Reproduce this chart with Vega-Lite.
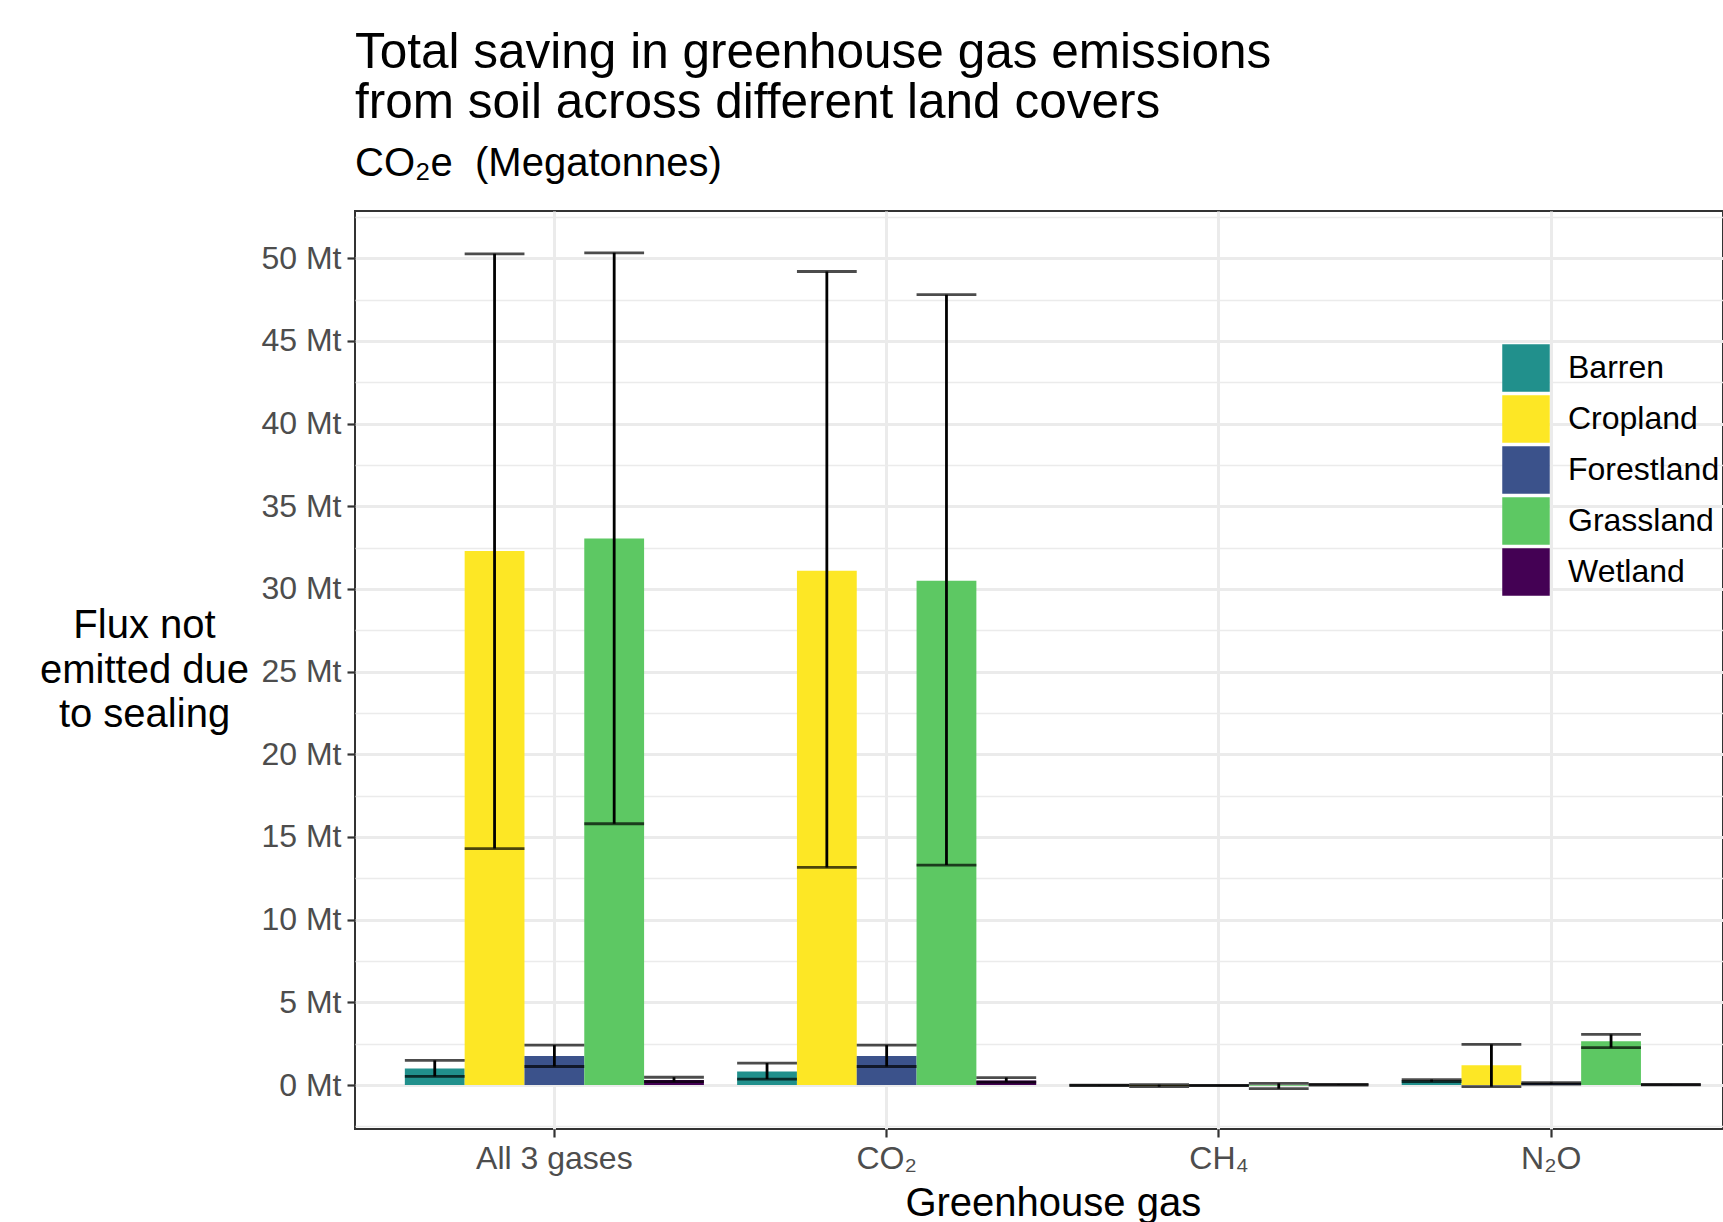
{
  "$schema": "https://vega.github.io/schema/vega-lite/v6.json",
  "width": 1368,
  "height": 918,
  "autosize": {"type": "none"},
  "padding": {"left": 355, "top": 211, "right": 0, "bottom": 93},
  "background": "white",
  "config": {
    "font": "Liberation Sans",
    "view": {"stroke": "#333333", "strokeWidth": 2},
    "title": {"font": "Liberation Sans", "subtitleFont": "Liberation Sans"}
  },
  "title": {
    "text": ["Total saving in greenhouse gas emissions", "from soil across different land covers"],
    "subtitle": "CO₂e\u00a0\u00a0(Megatonnes)",
    "anchor": "start",
    "frame": "group",
    "fontSize": 49.5,
    "fontWeight": "normal",
    "color": "black",
    "lineHeight": 50.5,
    "subtitleFontSize": 40,
    "subtitleColor": "black",
    "subtitlePadding": 15.5,
    "offset": 15.5
  },
  "data": {
    "values": [
      {"gas": "All 3 gases", "cover": "Barren", "value": 1.0, "lower": 0.52, "upper": 1.49},
      {"gas": "All 3 gases", "cover": "Cropland", "value": 32.3, "lower": 14.3, "upper": 50.27},
      {"gas": "All 3 gases", "cover": "Forestland", "value": 1.75, "lower": 1.12, "upper": 2.41},
      {"gas": "All 3 gases", "cover": "Grassland", "value": 33.05, "lower": 15.8, "upper": 50.33},
      {"gas": "All 3 gases", "cover": "Wetland", "value": 0.3, "lower": 0.2, "upper": 0.47},
      {"gas": "CO₂", "cover": "Barren", "value": 0.82, "lower": 0.36, "upper": 1.33},
      {"gas": "CO₂", "cover": "Cropland", "value": 31.1, "lower": 13.16, "upper": 49.2},
      {"gas": "CO₂", "cover": "Forestland", "value": 1.75, "lower": 1.12, "upper": 2.41},
      {"gas": "CO₂", "cover": "Grassland", "value": 30.5, "lower": 13.3, "upper": 47.8},
      {"gas": "CO₂", "cover": "Wetland", "value": 0.28, "lower": 0.18, "upper": 0.45},
      {"gas": "CH₄", "cover": "Barren", "value": -0.02, "lower": -0.03, "upper": -0.01},
      {"gas": "CH₄", "cover": "Cropland", "value": -0.05, "lower": -0.1, "upper": 0.02},
      {"gas": "CH₄", "cover": "Forestland", "value": -0.03, "lower": -0.04, "upper": -0.02},
      {"gas": "CH₄", "cover": "Grassland", "value": -0.05, "lower": -0.22, "upper": 0.1},
      {"gas": "CH₄", "cover": "Wetland", "value": 0.02, "lower": 0.0, "upper": 0.04},
      {"gas": "N₂O", "cover": "Barren", "value": 0.28, "lower": 0.2, "upper": 0.33},
      {"gas": "N₂O", "cover": "Cropland", "value": 1.19, "lower": -0.1, "upper": 2.46},
      {"gas": "N₂O", "cover": "Forestland", "value": 0.1, "lower": 0.05, "upper": 0.15},
      {"gas": "N₂O", "cover": "Grassland", "value": 2.64, "lower": 2.26, "upper": 3.06},
      {"gas": "N₂O", "cover": "Wetland", "value": 0.02, "lower": 0.01, "upper": 0.03}
    ]
  },
  "encoding": {
    "x": {
      "field": "gas",
      "type": "nominal",
      "sort": ["All 3 gases", "CO₂", "CH₄", "N₂O"],
      "scale": {"type": "band", "range": [0, 1395.6], "paddingInner": 0.1, "paddingOuter": 0.15},
      "axis": {
        "bandPosition": 0.5,
        "domain": false,
        "grid": true,
        "gridColor": "#EBEBEB",
        "gridWidth": 3,
        "ticks": true,
        "tickSize": 8,
        "tickWidth": 2.2,
        "tickColor": "#333333",
        "labelFontSize": 32,
        "labelColor": "#4D4D4D",
        "labelPadding": 6,
        "labelAngle": 0,
        "title": "Greenhouse gas",
        "titleFontSize": 40,
        "titleFontWeight": "normal",
        "titleColor": "black",
        "titleX": 697.8,
        "titleY": 86,
        "titleAlign": "center",
        "titleBaseline": "alphabetic"
      }
    },
    "xOffset": {
      "field": "cover",
      "type": "nominal",
      "scale": {"paddingInner": 0, "paddingOuter": 0}
    }
  },
  "layer": [
    {
      "mark": {"type": "bar"},
      "encoding": {
        "y": {
          "field": "value",
          "type": "quantitative",
          "scale": {"domain": [-2.66, 52.86], "nice": false, "zero": false},
          "axis": {
            "values": [-2.5, 0, 2.5, 5, 7.5, 10, 12.5, 15, 17.5, 20, 22.5, 25, 27.5, 30, 32.5, 35, 37.5, 40, 42.5, 45, 47.5, 50, 52.5],
            "labelExpr": "datum.value % 5 == 0 ? datum.value + ' Mt' : ''",
            "labelOverlap": false,
            "labelBound": false,
            "labelFontSize": 32,
            "labelColor": "#4D4D4D",
            "labelPadding": 6,
            "domain": false,
            "grid": true,
            "gridColor": "#EBEBEB",
            "gridWidth": {"condition": {"test": "datum.value % 5 == 0", "value": 3}, "value": 1.5},
            "ticks": true,
            "tickSize": {"condition": {"test": "datum.value % 5 == 0", "value": 8}, "value": 0},
            "tickWidth": 2.2,
            "tickColor": "#333333",
            "title": ["Flux not", "emitted due", "to sealing"],
            "titleAngle": 0,
            "titleFontSize": 40,
            "titleFontWeight": "normal",
            "titleColor": "black",
            "titleAlign": "center",
            "titleBaseline": "middle",
            "titleLineHeight": 44.5,
            "titleX": -211,
            "titleY": 414.5
          }
        },
        "color": {
          "field": "cover",
          "type": "nominal",
          "scale": {
            "domain": ["Barren", "Cropland", "Forestland", "Grassland", "Wetland"],
            "range": ["#21908C", "#FDE725", "#3B528B", "#5DC863", "#440154"]
          },
          "legend": {
            "orient": "none",
            "legendX": 1147,
            "legendY": 133,
            "title": null,
            "symbolType": "square",
            "symbolSize": 2256,
            "symbolStrokeWidth": 0,
            "labelFontSize": 32,
            "labelColor": "black",
            "labelOffset": 18,
            "rowPadding": 3
          }
        }
      }
    },
    {
      "mark": {"type": "rule", "color": "black", "strokeWidth": 2.8},
      "encoding": {
        "y": {"field": "lower", "type": "quantitative"},
        "y2": {"field": "upper"}
      }
    },
    {
      "mark": {"type": "tick", "color": "black", "thickness": 2.8, "size": 59.8, "orient": "horizontal"},
      "encoding": {
        "y": {"field": "lower", "type": "quantitative"}
      }
    },
    {
      "mark": {"type": "tick", "color": "black", "thickness": 2.8, "size": 59.8, "orient": "horizontal"},
      "encoding": {
        "y": {"field": "upper", "type": "quantitative"}
      }
    }
  ]
}
